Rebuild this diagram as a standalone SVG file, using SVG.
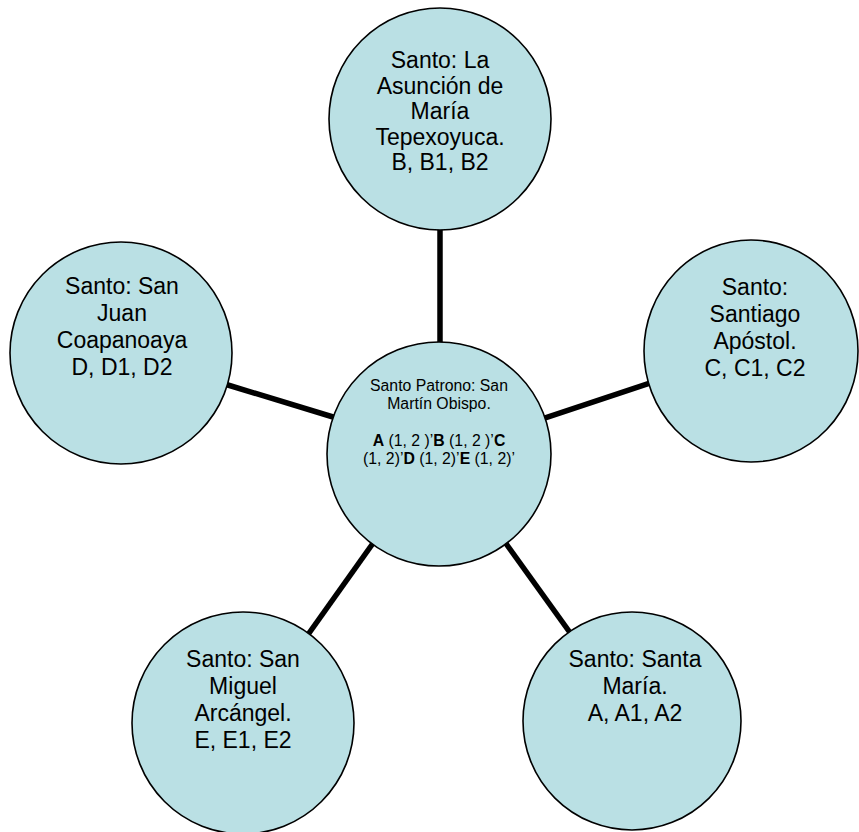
<svg xmlns="http://www.w3.org/2000/svg" width="859" height="832" viewBox="0 0 859 832">
<style>
.n{fill:#BAE0E4;stroke:#000;stroke-width:1.6}
.c{stroke:#000;stroke-width:5.5;fill:none}
.t{font-family:"Liberation Sans",Arial,sans-serif;font-size:23px;fill:#000;text-anchor:middle}
.s{font-family:"Liberation Sans",Arial,sans-serif;font-size:15.8px;fill:#000;text-anchor:middle}
.b{font-weight:bold}
</style>
<rect width="859" height="832" fill="#fff"/>
<g id="connectors">
<line class="c" x1="440" y1="225" x2="440" y2="347"/>
<line class="c" x1="223" y1="383.5" x2="338" y2="418.5"/>
<line class="c" x1="540" y1="419.7" x2="655" y2="381.3"/>
<line class="c" x1="376" y1="539" x2="307" y2="636"/>
<line class="c" x1="502" y1="538" x2="571" y2="634"/>
</g>
<g id="center">
<circle class="n" cx="439" cy="454" r="112"/>
<text class="s" x="439" y="390.5">Santo Patrono: San</text>
<text class="s" x="439" y="408.8">Martín Obispo.</text>
<text class="s" x="439" y="445.5"><tspan class="b">A</tspan> (1, 2 )’<tspan class="b">B</tspan> (1, 2 )’<tspan class="b">C</tspan></text>
<text class="s" x="439" y="464"> (1, 2)’<tspan class="b">D</tspan> (1, 2)’<tspan class="b">E</tspan> (1, 2)’</text>
</g>
<g id="node-B">
<circle class="n" cx="440" cy="119" r="111"/>
<text class="t" x="440" y="68">Santo: La</text>
<text class="t" x="440" y="93.5">Asunción de</text>
<text class="t" x="440" y="119">María</text>
<text class="t" x="440" y="144.5">Tepexoyuca.</text>
<text class="t" x="440" y="170">B, B1, B2</text>
</g>
<g id="node-C">
<ellipse class="n" cx="751" cy="351" rx="107" ry="111"/>
<text class="t" x="755" y="295">Santo:</text>
<text class="t" x="755" y="322">Santiago</text>
<text class="t" x="755" y="349">Apóstol.</text>
<text class="t" x="755" y="376">C, C1, C2</text>
</g>
<g id="node-D">
<circle class="n" cx="121" cy="353" r="111"/>
<text class="t" x="122" y="294">Santo: San</text>
<text class="t" x="122" y="321">Juan</text>
<text class="t" x="122" y="348">Coapanoaya</text>
<text class="t" x="122" y="375">D, D1, D2</text>
</g>
<g id="node-E">
<circle class="n" cx="243" cy="723" r="111"/>
<text class="t" x="243" y="667">Santo: San</text>
<text class="t" x="243" y="694">Miguel</text>
<text class="t" x="243" y="721">Arcángel.</text>
<text class="t" x="243" y="748">E, E1, E2</text>
</g>
<g id="node-A">
<circle class="n" cx="632" cy="721" r="109"/>
<text class="t" x="635" y="667">Santo: Santa</text>
<text class="t" x="635" y="694">María.</text>
<text class="t" x="635" y="721">A, A1, A2</text>
</g>
</svg>
